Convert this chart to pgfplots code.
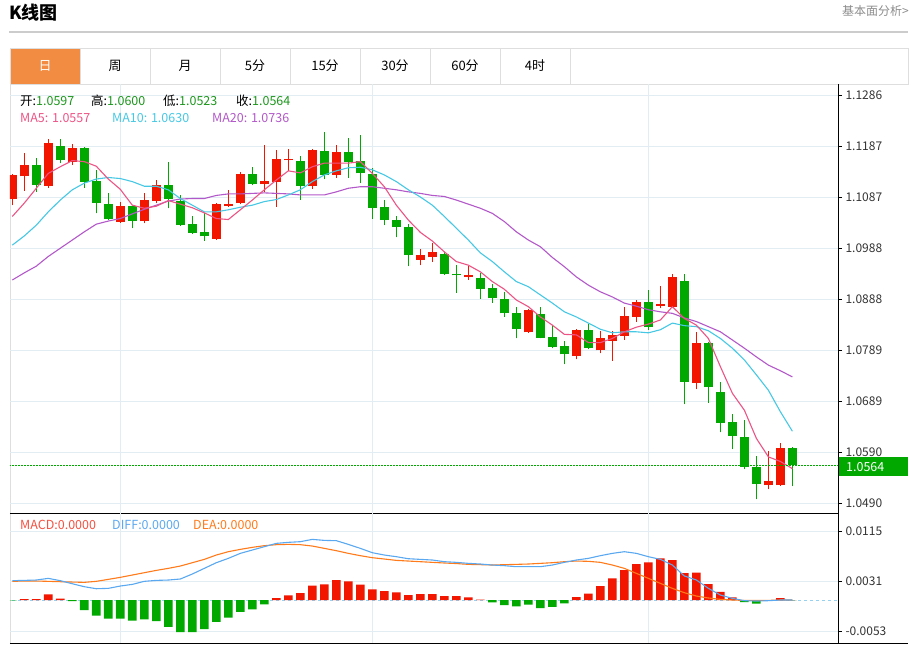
\documentclass[border=0pt]{standalone}
\usepackage{pgfplots}
\pgfplotsset{compat=1.18}
\usepackage{pgfplotstable}
\usepackage{fontspec}
\setmainfont{Noto Sans CJK SC}

\definecolor{kred}{RGB}{242,22,0}
\definecolor{kgreen}{RGB}{0,168,0}
\definecolor{ma5c}{RGB}{236,84,134}
\definecolor{ma10c}{RGB}{70,200,228}
\definecolor{ma20c}{RGB}{178,88,200}
\definecolor{diffc}{RGB}{90,168,240}
\definecolor{deac}{RGB}{255,122,26}
\definecolor{gridc}{RGB}{226,236,243}
\definecolor{tabline}{RGB}{222,222,222}
\definecolor{taborange}{RGB}{242,140,66}
\definecolor{valgreen}{RGB}{28,150,28}
\definecolor{zeroc}{RGB}{150,210,240}
\definecolor{labc}{RGB}{51,51,51}

% daily candles: index, open, high, low, close
\pgfplotstableread{
i o h l c
0 1.1083 1.1132 1.1071 1.1129
1 1.1127 1.1173 1.1099 1.1149
2 1.1149 1.1164 1.1097 1.1110
3 1.1109 1.1200 1.1105 1.1192
4 1.1186 1.1201 1.1153 1.1159
5 1.1156 1.1190 1.1150 1.1183
6 1.1183 1.1185 1.1105 1.1117
7 1.1119 1.1140 1.1055 1.1076
8 1.1073 1.1095 1.1042 1.1045
9 1.1039 1.1078 1.1037 1.1069
10 1.1069 1.1070 1.1026 1.1041
11 1.1040 1.1095 1.1036 1.1082
12 1.1079 1.1120 1.1075 1.1110
13 1.1110 1.1155 1.1065 1.1083
14 1.1079 1.1091 1.1031 1.1032
15 1.1034 1.1049 1.1015 1.1017
16 1.1019 1.1055 1.1002 1.1010
17 1.1006 1.1075 1.1004 1.1074
18 1.1069 1.1101 1.1068 1.1073
19 1.1075 1.1136 1.1073 1.1132
20 1.1132 1.1146 1.1110 1.1112
21 1.1112 1.1188 1.1097 1.1118
22 1.1117 1.1179 1.1068 1.1161
23 1.1159 1.1181 1.1138 1.1162
24 1.1158 1.1167 1.1082 1.1109
25 1.1109 1.1180 1.1103 1.1179
26 1.1177 1.1213 1.1122 1.1130
27 1.1130 1.1188 1.1125 1.1175
28 1.1174 1.1203 1.1125 1.1156
29 1.1157 1.1208 1.1114 1.1133
30 1.1131 1.1143 1.1045 1.1066
31 1.1067 1.1082 1.1032 1.1043
32 1.1042 1.1049 1.1008 1.1028
33 1.1028 1.1034 1.0952 1.0974
34 1.0965 1.0986 1.0954 1.0974
35 1.0969 1.0998 1.0961 1.0979
36 1.0975 1.0980 1.0935 1.0937
37 1.0937 1.0954 1.0900 1.0934
38 1.0931 1.0952 1.0926 1.0935
39 1.0928 1.0938 1.0888 1.0907
40 1.0909 1.0917 1.0881 1.0889
41 1.0888 1.0902 1.0853 1.0860
42 1.0861 1.0873 1.0811 1.0829
43 1.0823 1.0868 1.0822 1.0867
44 1.0859 1.0872 1.0811 1.0812
45 1.0814 1.0837 1.0792 1.0794
46 1.0796 1.0806 1.0761 1.0780
47 1.0777 1.0829 1.0770 1.0827
48 1.0827 1.0839 1.0790 1.0792
49 1.0788 1.0826 1.0782 1.0811
50 1.0807 1.0826 1.0768 1.0817
51 1.0816 1.0872 1.0808 1.0855
52 1.0853 1.0887 1.0844 1.0883
53 1.0882 1.0906 1.0828 1.0833
54 1.0874 1.0914 1.0870 1.0878
55 1.0873 1.0937 1.0872 1.0930
56 1.0924 1.0937 1.0683 1.0727
57 1.0725 1.0824 1.0712 1.0803
58 1.0803 1.0804 1.0686 1.0716
59 1.0706 1.0727 1.0628 1.0647
60 1.0649 1.0663 1.0595 1.0621
61 1.0619 1.0652 1.0556 1.0561
62 1.0561 1.0582 1.0497 1.0527
63 1.0525 1.0592 1.0517 1.0533
64 1.0525 1.0608 1.0524 1.0597
65 1.0597 1.0600 1.0523 1.0564
}\ohlc

% moving averages
\pgfplotstableread{
i ma5 ma10 ma20
0 1.1049 1.0993 1.0925
1 1.1075 1.1011 1.0939
2 1.1104 1.1032 1.0952
3 1.1133 1.1058 1.0971
4 1.1146 1.1081 1.0987
5 1.1158 1.1101 1.1003
6 1.1156 1.1114 1.1019
7 1.1147 1.1122 1.1034
8 1.1122 1.1125 1.1040
9 1.1102 1.1123 1.1045
10 1.1071 1.1117 1.1054
11 1.1065 1.1108 1.1063
12 1.1069 1.1108 1.1071
13 1.1080 1.1101 1.1079
14 1.1073 1.1084 1.1083
15 1.1066 1.1071 1.1084
16 1.1056 1.1058 1.1084
17 1.1045 1.1058 1.1090
18 1.1043 1.1062 1.1093
19 1.1062 1.1067 1.1093
20 1.1081 1.1071 1.1094
21 1.1101 1.1078 1.1095
22 1.1120 1.1082 1.1094
23 1.1138 1.1091 1.1093
24 1.1134 1.1101 1.1091
25 1.1146 1.1117 1.1091
26 1.1153 1.1130 1.1091
27 1.1153 1.1138 1.1097
28 1.1153 1.1144 1.1104
29 1.1156 1.1145 1.1107
30 1.1133 1.1140 1.1107
31 1.1107 1.1130 1.1104
32 1.1071 1.1117 1.1101
33 1.1042 1.1101 1.1097
34 1.1018 1.1087 1.1094
35 1.1001 1.1071 1.1090
36 1.0980 1.1049 1.1088
37 1.0961 1.1026 1.1081
38 1.0954 1.1003 1.1073
39 1.0941 1.0978 1.1065
40 1.0922 1.0961 1.1055
41 1.0907 1.0941 1.1039
42 1.0886 1.0922 1.1019
43 1.0873 1.0912 1.1003
44 1.0853 1.0896 1.0990
45 1.0837 1.0880 1.0969
46 1.0819 1.0863 1.0951
47 1.0818 1.0853 1.0931
48 1.0803 1.0841 1.0915
49 1.0803 1.0829 1.0902
50 1.0811 1.0822 1.0892
51 1.0824 1.0824 1.0880
52 1.0833 1.0824 1.0874
53 1.0839 1.0822 1.0867
54 1.0847 1.0828 1.0863
55 1.0873 1.0841 1.0860
56 1.0850 1.0836 1.0851
57 1.0837 1.0834 1.0844
58 1.0811 1.0826 1.0834
59 1.0756 1.0811 1.0824
60 1.0704 1.0792 1.0808
61 1.0671 1.0769 1.0792
62 1.0616 1.0740 1.0775
63 1.0580 1.0710 1.0759
64 1.0571 1.0668 1.0748
65 1.0557 1.0630 1.0736
}\mas

% MACD histogram, DIFF, DEA
\pgfplotstableread{
i m diff dea
0 -0.00005 0.00325 0.00314
1 0.00017 0.00330 0.00319
2 0.00017 0.00336 0.00319
3 0.00096 0.00364 0.00314
4 0.00022 0.00325 0.00308
5 -0.00017 0.00274 0.00302
6 -0.00168 0.00224 0.00297
7 -0.00264 0.00190 0.00314
8 -0.00314 0.00196 0.00347
9 -0.00314 0.00235 0.00381
10 -0.00348 0.00263 0.00420
11 -0.00324 0.00314 0.00459
12 -0.00353 0.00330 0.00498
13 -0.00449 0.00336 0.00532
14 -0.00538 0.00353 0.00571
15 -0.00538 0.00437 0.00627
16 -0.00487 0.00532 0.00683
17 -0.00365 0.00627 0.00756
18 -0.00297 0.00700 0.00812
19 -0.00197 0.00784 0.00851
20 -0.00156 0.00840 0.00885
21 -0.00072 0.00896 0.00913
22 0.00034 0.00952 0.00930
23 0.00079 0.00969 0.00935
24 0.00118 0.00980 0.00930
25 0.00240 0.01019 0.00907
26 0.00264 0.01002 0.00868
27 0.00336 0.00997 0.00829
28 0.00314 0.00935 0.00784
29 0.00257 0.00868 0.00745
30 0.00180 0.00795 0.00711
31 0.00151 0.00756 0.00689
32 0.00129 0.00728 0.00666
33 0.00084 0.00694 0.00655
34 0.00101 0.00683 0.00644
35 0.00101 0.00672 0.00633
36 0.00067 0.00644 0.00622
37 0.00067 0.00633 0.00613
38 0.00045 0.00616 0.00599
39 0.00005 0.00605 0.00594
40 -0.00039 0.00588 0.00588
41 -0.00084 0.00577 0.00594
42 -0.00106 0.00560 0.00599
43 -0.00079 0.00560 0.00605
44 -0.00134 0.00560 0.00616
45 -0.00113 0.00588 0.00627
46 -0.00055 0.00633 0.00644
47 0.00050 0.00672 0.00655
48 0.00106 0.00700 0.00650
49 0.00235 0.00745 0.00633
50 0.00365 0.00784 0.00588
51 0.00504 0.00812 0.00532
52 0.00605 0.00784 0.00448
53 0.00633 0.00728 0.00364
54 0.00701 0.00683 0.00280
55 0.00672 0.00588 0.00196
56 0.00454 0.00403 0.00123
57 0.00459 0.00336 0.00067
58 0.00269 0.00196 0.00034
59 0.00139 0.00084 0.00011
60 0.00045 0.00028 0.00000
61 -0.00034 -0.00011 -0.00006
62 -0.00062 -0.00017 -0.00006
63 -0.00005 -0.00011 -0.00006
64 0.00034 0.00000 0.00000
65 0.00000 0.00000 0.00000
}\macd

\pgfplotsset{
  kpanel/.style={
    scale only axis, width=828pt,
    xmin=-0.19, xmax=68.8,
    axis x line*=bottom, axis y line*=right,
    axis line style={-, black, line width=0.9pt},
    xtick={9,30,53}, xticklabels={\empty,\empty,\empty}, xmajorgrids,
    x tick style={draw=none},
    ymajorgrids, grid style={gridc, line width=0.9pt},
    tick align=outside, major tick length=4pt,
    y tick style={black, line width=0.8pt},
    yticklabel style={font=\fontsize{12}{14}\selectfont, text=labc},
    scaled y ticks=false, scaled x ticks=false,
    /pgf/number format/assume math mode=true,
  },
  candle/.style n args={2}{only marks, mark size=0pt,
    mark options={draw=none, fill=none}, forget plot,
    /pgfplots/error bars/y dir=plus,
    /pgfplots/error bars/y explicit,
    /pgfplots/error bars/error mark=none,
    /pgfplots/error bars/error bar style={#1, line width=#2}},
}

\begin{document}
\begin{tikzpicture}
\useasboundingbox (0pt,0pt) rectangle (913pt,-645pt);

% page header and period tabs
\begin{scope}[x=1pt,y=-1pt]
\node[anchor=west, inner sep=0pt, font=\fontsize{18}{20}\selectfont\bfseries] at (9,13) {K线图};
\node[anchor=east, inner sep=0pt, text=black!45, font=\fontsize{12}{14}\selectfont] at (909,11) {基本面分析>};
\draw[black!20, line width=1.4pt] (9,32) -- (908,32);
\fill[taborange] (10,48.5) rectangle (79.5,84);
\draw[tabline, line width=1pt] (10,48.5) rectangle (908,84);
\foreach \xx in {80,150,220,290,360,430,500,570}
  \draw[tabline, line width=1pt] (\xx,48.5) -- (\xx,84);
\begin{scope}[font=\fontsize{13}{15}\selectfont]
\node[white] at (45,66) {日};
\node at (115,66) {周};
\node at (185,66) {月};
\node at (255,66) {5分};
\node at (325,66) {15分};
\node at (395,66) {30分};
\node at (465,66) {60分};
\node at (535,66) {4时};
\end{scope}
\draw[tabline, line width=0.9pt] (10,84) -- (10,643);
\end{scope}

% price panel
\begin{axis}[kpanel, at={(10pt,-84pt)}, anchor=north west, height=429pt,
  ymin=1.04705, ymax=1.13074,
  ytick={1.0490,1.05895,1.0689,1.07885,1.0888,1.09875,1.1087,1.11865,1.1286},
  yticklabels={1.0490,1.0590,1.0689,1.0789,1.0888,1.0988,1.1087,1.1187,1.1286}]
\addplot[restrict expr to domain={\thisrow{c}-\thisrow{o}}{0:1}, candle={kred}{1.3pt}]
  table[x=i, y=l, y error expr=\thisrow{h}-\thisrow{l}] {\ohlc};
\addplot[restrict expr to domain={\thisrow{c}-\thisrow{o}}{0:1}, candle={kred}{8.6pt}]
  table[x=i, y=o, y error expr=\thisrow{c}-\thisrow{o}] {\ohlc};
\addplot[restrict expr to domain={\thisrow{c}-\thisrow{o}}{-1:0}, candle={kgreen}{1.3pt}]
  table[x=i, y=l, y error expr=\thisrow{h}-\thisrow{l}] {\ohlc};
\addplot[restrict expr to domain={\thisrow{c}-\thisrow{o}}{-1:0}, candle={kgreen}{8.6pt}]
  table[x=i, y=c, y error expr=\thisrow{o}-\thisrow{c}] {\ohlc};
\addplot[ma20c, line width=1.1pt, no marks] table[x=i, y=ma20] {\mas};
\addplot[ma10c, line width=1.1pt, no marks] table[x=i, y=ma10] {\mas};
\addplot[ma5c, line width=1.1pt, no marks] table[x=i, y=ma5] {\mas};
\addplot[color=kgreen, dash pattern=on 1.6pt off 1.4pt, line width=1.1pt, no marks] coordinates {(-1,1.0564) (70,1.0564)};
\end{axis}

% MACD panel
\begin{axis}[kpanel, at={(10pt,-513pt)}, anchor=north west, height=130pt,
  ymin=-0.00722, ymax=0.01462,
  ytick={-0.0053,0.0031,0.0115},
  yticklabels={-0.0053,0.0031,0.0115}]
\addplot[zeroc, dashed, line width=0.9pt, no marks] coordinates {(-1,0) (70,0)};
\addplot[ybar, bar width=8.6pt, bar shift=0pt, fill=kred, draw=none, forget plot,
  restrict expr to domain={\thisrow{m}}{0:1}] table[x=i, y=m] {\macd};
\addplot[ybar, bar width=8.6pt, bar shift=0pt, fill=kgreen, draw=none, forget plot,
  restrict expr to domain={\thisrow{m}}{-1:0}] table[x=i, y=m] {\macd};
\addplot[deac, line width=1.1pt, no marks] table[x=i, y=dea] {\macd};
\addplot[diffc, line width=1.1pt, no marks] table[x=i, y=diff] {\macd};
\end{axis}

% legends and last-price tag
\begin{scope}[x=1pt,y=-1pt, every node/.style={anchor=base west, inner sep=0pt, font=\fontsize{12.5}{14}\selectfont}]
\node at (20,105) {开:\textcolor{valgreen}{1.0597}};
\node at (91,105) {高:\textcolor{valgreen}{1.0600}};
\node at (163,105) {低:\textcolor{valgreen}{1.0523}};
\node at (236,105) {收:\textcolor{valgreen}{1.0564}};
\node[text=ma5c] at (20,122.5) {MA5: 1.0557};
\node[text=ma10c] at (112,122.5) {MA10: 1.0630};
\node[text=ma20c] at (212,122.5) {MA20: 1.0736};
\node[text=kred!75!white] at (20,529) {MACD:0.0000};
\node[text=diffc] at (112,529) {DIFF:0.0000};
\node[text=deac] at (193,529) {DEA:0.0000};
\fill[kgreen] (838.5,457.3) rectangle (908,475.7);
\node[text=white] at (846,471) {1.0564};
\draw[black, line width=0.9pt] (10,643) -- (908,643);
\end{scope}
\end{tikzpicture}
\end{document}
